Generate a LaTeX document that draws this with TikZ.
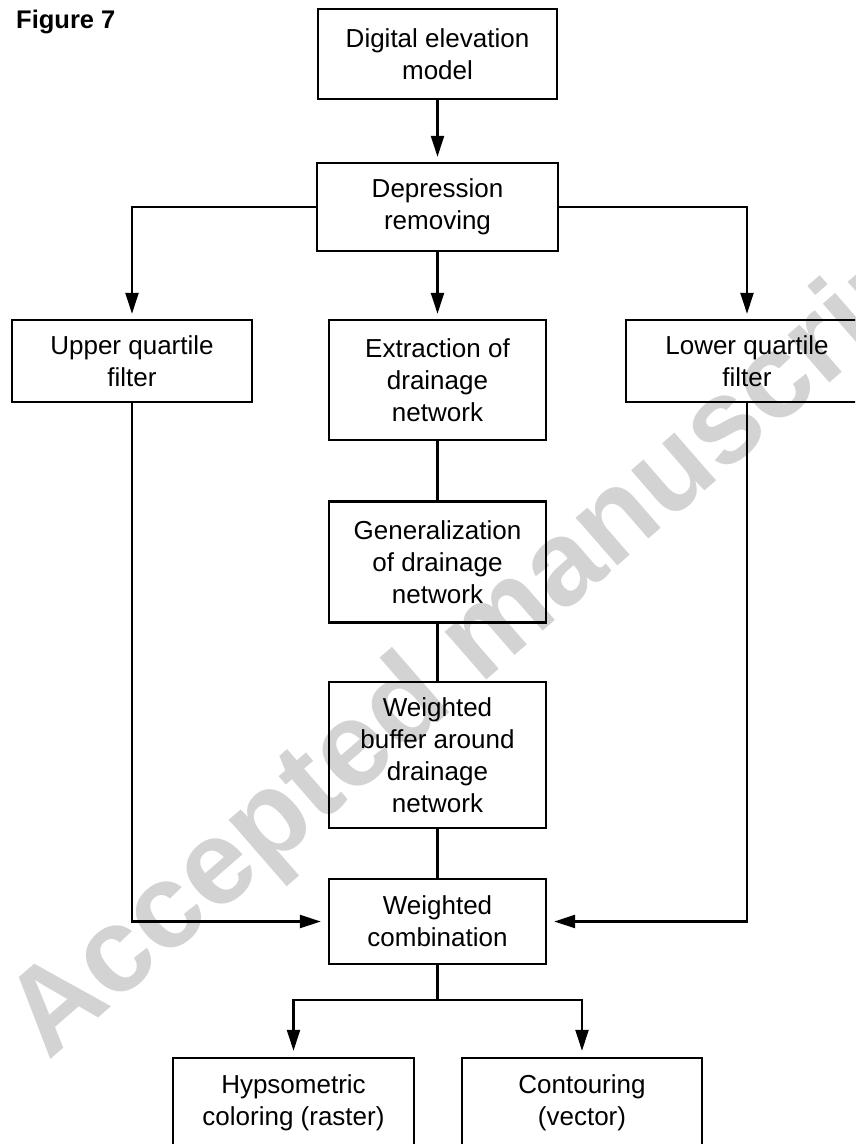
\documentclass[tikz,border=0pt]{standalone}
\usepackage{fontspec}
\setmainfont{Liberation Sans}
\usetikzlibrary{arrows.meta}
\definecolor{wmgray}{RGB}{211,211,211}
\tikzset{
  box/.style={draw, line width=2.4pt, align=center, inner sep=0pt,
    font=\fontsize{26}{32}\selectfont},
  arr/.style={line width=2.4pt, -{Triangle[length=21pt,width=13pt]}},
  ln/.style={line width=2.4pt},
  wmark/.style={text=wmgray, inner sep=0pt, anchor=base west, rotate=41,
    font=\fontsize{120}{120}\bfseries\selectfont},
  title/.style={inner sep=0pt, anchor=base west, font=\fontsize{25.5}{30}\bfseries\selectfont},
}
\begin{document}
\begin{tikzpicture}[x=1pt,y=-1pt]
\useasboundingbox (0,0) rectangle (855,1144);
\clip (0,0) rectangle (855,1144);

% watermark (behind everything)
\node[wmark] (wm) at (48,1062) {Accepted manuscript};

% title
\node[title] (fig) at (16,28) {Figure 7};

% boxes
\node[box, minimum width=239pt, minimum height=90pt] (dem) at (437.5,54) {Digital elevation\\model};
\node[box, minimum width=241pt, minimum height=88pt] (dep) at (437.5,207) {Depression\\removing};
\node[box, minimum width=240pt, minimum height=82pt] (upq) at (132,361) {Upper quartile\\filter};
\node[box, minimum width=217pt, minimum height=120pt] (ext) at (437.5,380) {Extraction of\\drainage\\network};
\node[box, minimum width=242pt, minimum height=82pt] (loq) at (747,361) {Lower quartile\\filter};
\node[box, minimum width=217pt, minimum height=121pt] (gen) at (437.5,562) {Generalization\\of drainage\\network};
\node[box, minimum width=217pt, minimum height=146pt] (buf) at (437.5,755) {Weighted\\buffer around\\drainage\\network};
\node[box, minimum width=217pt, minimum height=85pt] (wc) at (437.5,921.5) {Weighted\\combination};
\node[box, minimum width=241pt, minimum height=90pt] (hyp) at (293.5,1103) {Hypsometric\\coloring (raster)};
\node[box, minimum width=240pt, minimum height=90pt] (con) at (582,1103) {Contouring\\(vector)};

% connectors
\draw[arr, shorten >=5pt] (dem) -- (dep);
\draw[arr, shorten >=5pt] (dep) -- (ext);
\draw[arr, shorten >=5pt] (dep.west) -| (upq.north);
\draw[arr, shorten >=5pt] (dep.east) -| (loq.north);
\draw[ln] (ext) -- (gen);
\draw[ln] (gen) -- (buf);
\draw[ln] (buf) -- (wc);
\draw[arr, shorten >=7pt] (upq.south) |- (wc.west);
\draw[arr, shorten >=7pt] (loq.south) |- (wc.east);
\draw[ln] (wc.south) -- ++(0,35) coordinate (sp);
\draw[arr, shorten >=6pt] (sp) -| (hyp.north);
\draw[arr, shorten >=6pt] (sp) -| (con.north);
\end{tikzpicture}
\end{document}
